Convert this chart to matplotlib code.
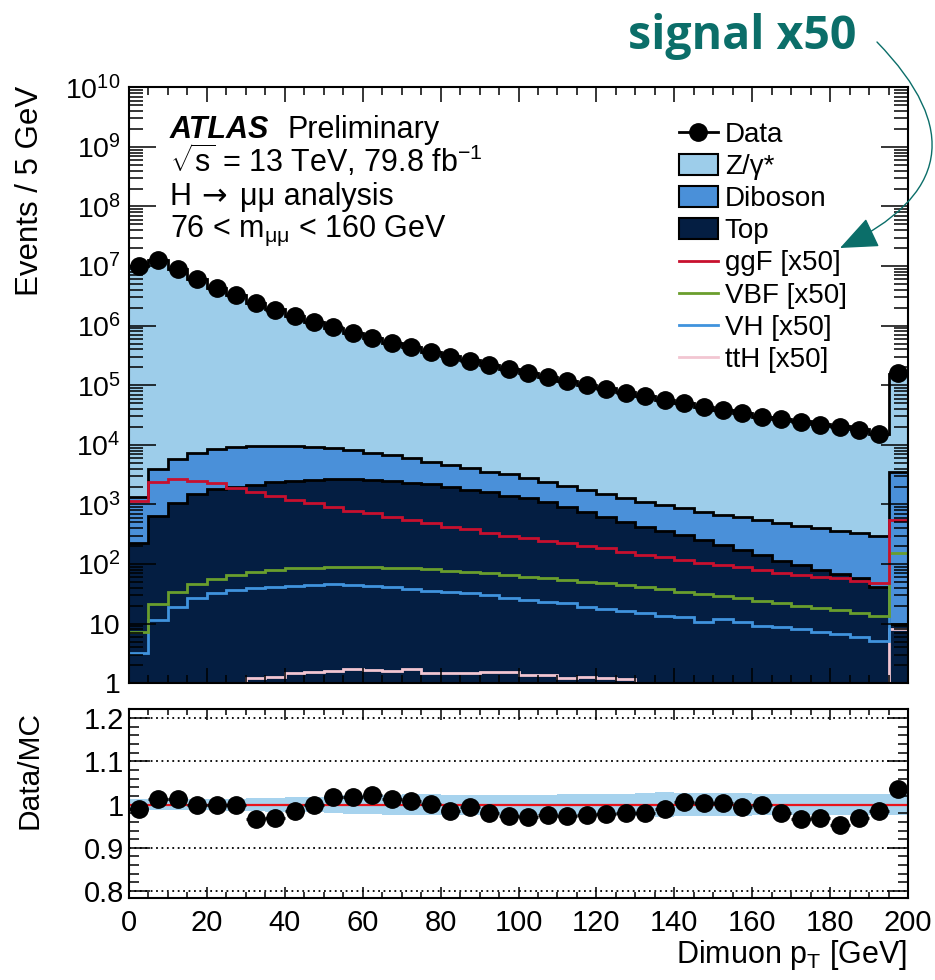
import numpy as np
import matplotlib
matplotlib.use("Agg")
import matplotlib.pyplot as plt
from matplotlib.ticker import FixedLocator, MultipleLocator, FuncFormatter, NullFormatter
from matplotlib.patches import FancyArrowPatch, Patch
from matplotlib.lines import Line2D

plt.rcParams['font.family'] = ['Liberation Sans', 'DejaVu Sans']
plt.rcParams['mathtext.fontset'] = 'custom'
plt.rcParams['mathtext.rm'] = 'Liberation Sans'
plt.rcParams['mathtext.it'] = 'Liberation Sans:italic'
plt.rcParams['mathtext.bf'] = 'Liberation Sans:bold'

# ---------------- data ----------------
bin_width = 5
pt_min, pt_max = 0, 200

data = [1.0e7, 1.26e7, 8.9e6, 6.0e6, 4.35e6, 3.24e6, 2.37e6, 1.83e6, 1.45e6, 1.15e6,
        9.4e5, 7.6e5, 6.3e5, 5.2e5, 4.45e5, 3.6e5, 3.0e5, 2.6e5, 2.18e5, 1.86e5,
        1.59e5, 1.36e5, 1.17e5, 1.0e5, 8.8e4, 7.5e4, 6.5e4, 5.66e4, 5.0e4, 4.37e4,
        3.85e4, 3.39e4, 2.99e4, 2.69e4, 2.42e4, 2.16e4, 1.97e4, 1.78e4, 1.52e4, 1.59e5]

zjets = [1.01e7, 1.243e7, 8.78e6, 5.99e6, 4.34e6, 3.23e6, 2.44e6, 1.88e6, 1.46e6, 1.14e6,
         9.15e5, 7.39e5, 6.09e5, 5.07e5, 4.35e5, 3.55e5, 3.0e5, 2.57e5, 2.18e5, 1.88e5,
         1.61e5, 1.366e5, 1.18e5, 1.0e5, 8.84e4, 7.52e4, 6.52e4, 5.62e4, 4.88e4, 4.28e4,
         3.76e4, 3.35e4, 2.94e4, 2.69e4, 2.46e4, 2.19e4, 2.03e4, 1.81e4, 1.51e4, 1.50e5]

diboson = [1130, 3250, 4660, 5890, 6730, 7175, 7435, 7340, 7050, 6750,
           6120, 5550, 4810, 4280, 3640, 3050, 2605, 2300, 1950, 1820,
           1550, 1300, 1120, 992, 876, 756, 690, 621, 554, 504,
           458, 437, 408, 370, 339, 318, 295, 278, 254, 3540]

top = [223, 641, 1072, 1500, 1800, 1945, 2125, 2357, 2510, 2577,
       2650, 2650, 2577, 2480, 2320, 2180, 1995, 1750, 1600, 1390,
       1270, 1115, 920, 758, 624, 514, 425, 359, 308, 254,
       209, 173, 142, 114, 97, 80, 68, 58, 42, 10]

ggf = [1160, 2415, 2650, 2510, 2270, 1870, 1640, 1390, 1190, 1070,
       898, 787, 712, 624, 550, 484, 425, 388, 336, 296,
       271, 247, 223, 201, 184, 162, 142, 130, 117, 106,
       97, 88, 80, 72, 66, 61, 58, 53, 48, 550]

vbf = [7.2, 21.4, 34, 46, 56, 66, 74, 80, 85, 87,
       89, 90.5, 89, 87, 85, 82, 77.6, 74, 70, 65,
       61.5, 57.7, 54, 50.7, 47.6, 44.6, 41.8, 38.2, 34.4, 31.5,
       29.2, 26.7, 24.3, 22, 20, 18.1, 17, 15.3, 13.5, 151]

vh = [3.2, 11.5, 19.3, 26.7, 32.4, 36.7, 39.2, 41.8, 43.5, 44.6,
      45.7, 44.6, 42.9, 41.8, 38.7, 35.8, 34.4, 33.1, 30.3, 26.7,
      25, 23.4, 22.5, 18.8, 17.4, 16.3, 14.9, 13.6, 12.8, 10.8,
      11.9, 10.8, 9.1, 8.9, 8.1, 7.3, 6.7, 6.05, 5.2, 70]

tth = [0.5, 0.6, 0.7, 0.8, 0.9, 0.95, 1.21, 1.29, 1.47, 1.57,
       1.63, 1.76, 1.67, 1.63, 1.72, 1.47, 1.5, 1.5, 1.57, 1.57,
       1.38, 1.4, 1.21, 1.29, 1.25, 1.17, 0.95, 0.9, 0.85, 0.8,
       0.75, 0.7, 0.65, 0.6, 0.55, 0.5, 0.5, 0.5, 0.5, 8]

ratio = [0.990, 1.014, 1.013, 1.000, 1.000, 1.000, 0.966, 0.968, 0.985, 1.000,
         1.017, 1.018, 1.022, 1.012, 1.008, 1.001, 0.985, 0.995, 0.980, 0.973,
         0.972, 0.975, 0.973, 0.977, 0.979, 0.980, 0.980, 0.990, 1.007, 1.003,
         1.004, 0.995, 1.000, 0.980, 0.967, 0.970, 0.953, 0.970, 0.985, 1.035]

mc_unc = [0.012, 0.012, 0.013, 0.013, 0.013, 0.014, 0.015, 0.016, 0.017, 0.018,
          0.019, 0.021, 0.022, 0.023, 0.024, 0.024, 0.023, 0.023, 0.023, 0.023,
          0.023, 0.023, 0.024, 0.024, 0.025, 0.025, 0.026, 0.028, 0.027, 0.026,
          0.026, 0.026, 0.025, 0.025, 0.024, 0.024, 0.024, 0.024, 0.024, 0.024]

labels = ['Data', 'Z/γ*', 'Diboson', 'Top', 'ggF [x50]', 'VBF [x50]', 'VH [x50]', 'ttH [x50]']

# ---------------- styles ----------------
c_z = '#9dcdea'
c_db = '#4a90d9'
c_top = '#041e42'
c_ggf = '#c8102e'
c_vbf = '#6a9e2d'
c_vh = '#4093dd'
c_tth = '#f2c6d2'
c_band = '#a7d3ee'
teal = '#0b6e69'

edges = np.arange(pt_min, pt_max + bin_width, bin_width)
centers = 0.5 * (edges[:-1] + edges[1:])
data = np.array(data); zjets = np.array(zjets); diboson = np.array(diboson); top = np.array(top)
ratio = np.array(ratio); mc_unc = np.array(mc_unc)

s_top = top
s_db = top + diboson
s_all = s_db + zjets

W, H = 935, 980
fig = plt.figure(figsize=(W / 100, H / 100), dpi=100)
L, R = 129, 908
ax = fig.add_axes([L / W, 1 - 683.3 / H, (R - L) / W, (683.3 - 87.3) / H])
rax = fig.add_axes([L / W, 1 - 898 / H, (R - L) / W, (898 - 709) / H])

MS = 12.5

# ---------------- main panel ----------------
ax.stairs(s_all, edges, baseline=s_db, fill=True, color=c_z, lw=0)
ax.stairs(s_db, edges, baseline=s_top, fill=True, color=c_db, lw=0)
ax.stairs(s_top, edges, baseline=1e-3, fill=True, color=c_top, lw=0)
for s in (s_all, s_db, s_top):
    ax.stairs(s, edges, baseline=None, color='k', lw=2)

ax.stairs(tth, edges, baseline=None, color=c_tth, lw=2)
ax.stairs(vh, edges, baseline=None, color=c_vh, lw=2)
ax.stairs(vbf, edges, baseline=None, color=c_vbf, lw=2)
ax.stairs(ggf, edges, baseline=None, color=c_ggf, lw=2)

ax.errorbar(centers, data, xerr=bin_width / 2, fmt='o', color='k', ms=MS,
            elinewidth=2, capsize=0, zorder=10, clip_on=False)

ax.set_yscale('log')
ax.set_ylim(1, 1e10)
ax.set_xlim(pt_min, pt_max)


def logfmt(v, pos):
    if v == 1:
        return '1'
    if v == 10:
        return '10'
    return r'$\mathregular{10^{%d}}$' % int(round(np.log10(v)))


ax.yaxis.set_major_locator(FixedLocator([10.0 ** k for k in range(0, 11)]))
ax.yaxis.set_minor_locator(FixedLocator([m * 10.0 ** k for k in range(0, 10) for m in range(2, 10)]))
ax.yaxis.set_major_formatter(FuncFormatter(logfmt))
ax.yaxis.set_minor_formatter(NullFormatter())
ax.xaxis.set_major_locator(MultipleLocator(20))
ax.xaxis.set_minor_locator(MultipleLocator(5))
ax.tick_params(axis='x', labelbottom=False)
ax.tick_params(which='both', direction='in', top=True, right=True, width=1.1)
ax.tick_params(axis='y', which='major', length=19.4, labelsize=20.5, pad=6)
ax.tick_params(axis='y', which='minor', length=10)
ax.tick_params(axis='x', which='major', length=11)
ax.tick_params(axis='x', which='minor', length=5.5)
for sp in ax.spines.values():
    sp.set_linewidth(1.5)

# text block
tx = 170 / W
ax_txt = dict(transform=fig.transFigure, fontsize=22, ha='left', va='baseline')
fig.text(tx, 1 - 138 / H, 'ATLAS', fontweight='bold', fontstyle='italic', **ax_txt)
fig.text(287 / W, 1 - 138 / H, 'Preliminary', **ax_txt)
fig.text(tx, 1 - 172 / H, r'$\sqrt{\mathregular{s}}$ = 13 TeV, 79.8 fb$^{\mathregular{-1}}$', **ax_txt)
fig.text(tx, 1 - 205 / H, 'H', **ax_txt)
fig.text(201 / W, 1 - 205 / H, '→', family=['DejaVu Sans'], **ax_txt)
fig.text(240 / W, 1 - 205 / H, 'μμ analysis', **ax_txt)
fig.text(tx, 1 - 237 / H, r'76 < m$_{\mathregular{\mu\mu}}$ < 160 GeV', **ax_txt)

# legend
handles = [
    Line2D([], [], marker='o', color='k', ms=MS, lw=2),
    Patch(facecolor=c_z, edgecolor='k', lw=1.5),
    Patch(facecolor=c_db, edgecolor='k', lw=1.5),
    Patch(facecolor=c_top, edgecolor='k', lw=1.5),
    Line2D([], [], color=c_ggf, lw=2),
    Line2D([], [], color=c_vbf, lw=2),
    Line2D([], [], color=c_vh, lw=2),
    Line2D([], [], color=c_tth, lw=2),
]
fig.legend(handles, labels, loc='upper left', bbox_to_anchor=(679 / W, 1 - 122 / H),
           frameon=False, fontsize=20, borderpad=0, borderaxespad=0,
           handlelength=1.4, handleheight=0.75, handletextpad=0.25, labelspacing=0.22)

# ---------------- ratio panel ----------------
rax.stairs(1 + mc_unc, edges, baseline=1 - mc_unc, fill=True, color=c_band, lw=0)
for g in (0.8, 0.9, 1.1, 1.2):
    rax.axhline(g, color='k', ls=(0, (1, 2)), lw=1.3)
rax.axhline(1.0, color='#e8141c', lw=1.6)
rax.errorbar(centers, ratio, xerr=bin_width / 2, fmt='o', color='k', ms=MS,
             elinewidth=2, capsize=0, zorder=10)
rax.set_xlim(pt_min, pt_max)
rax.set_ylim(0.784, 1.221)
rax.yaxis.set_major_locator(FixedLocator([0.8, 0.9, 1.0, 1.1, 1.2]))
rax.yaxis.set_minor_locator(MultipleLocator(0.02))
rax.yaxis.set_major_formatter(FuncFormatter(lambda v, p: '%g' % round(v, 2)))
rax.xaxis.set_major_locator(MultipleLocator(20))
rax.xaxis.set_minor_locator(MultipleLocator(5))
rax.tick_params(which='both', direction='in', top=True, right=True, width=1.1, labelsize=21)
rax.tick_params(axis='y', which='major', length=15)
rax.tick_params(axis='y', which='minor', length=7.5)
rax.tick_params(axis='x', which='major', length=8, pad=8)
rax.tick_params(axis='x', which='minor', length=4)
for sp in rax.spines.values():
    sp.set_linewidth(1.5)

# axis titles
fig.text(30 / W, 1 - 86 / H, 'Events / 5 GeV', rotation=90, ha='center', va='top', fontsize=22.5)
fig.text(30 / W, 1 - 770 / H, 'Data/MC', rotation=90, ha='center', va='center', fontsize=21.5)
fig.text(907 / W, 1 - 955 / H, r'Dimuon p$_{\mathregular{T}}$ [GeV]', ha='right', va='center', fontsize=22)

# annotation
fig.text(628 / W, 1 - 36 / H, 'signal x50', fontsize=33.5, fontweight='bold', color=teal,
         family=['Open Sans', 'DejaVu Sans'], ha='left', va='center')
arrow = FancyArrowPatch(posA=(877 / W, 1 - 42 / H), posB=(840 / W, 1 - 248 / H),
                        transform=fig.transFigure, connectionstyle='arc3,rad=-0.7',
                        arrowstyle='-|>,head_length=1.2,head_width=0.5',
                        color=teal, lw=1, mutation_scale=20, shrinkA=0, shrinkB=0)
fig.add_artist(arrow)

fig.savefig('out.png', dpi=100)
